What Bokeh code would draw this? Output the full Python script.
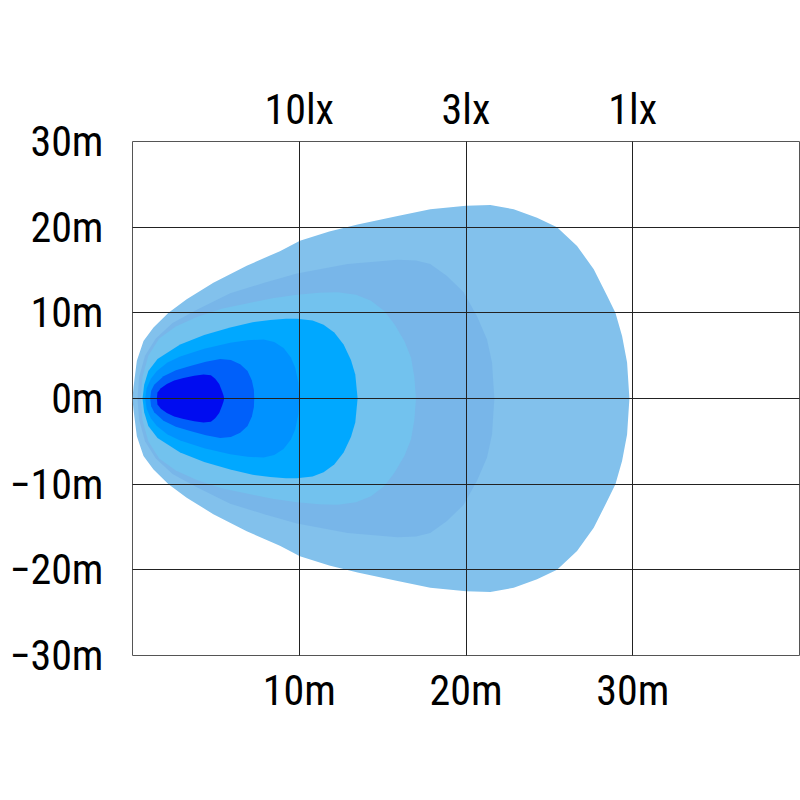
from bokeh.plotting import figure
from bokeh.models import Range1d, FixedTicker, LinearAxis
from bokeh.embed import file_html
from bokeh.resources import INLINE

# Iso-lux outlines (upper half, metres); lower half is the mirror image
lux1_x = [0.0, 0.06, 0.26, 0.66, 1.26, 2.16, 3.25, 4.85, 6.85, 8.84, 10.04, 11.8, 13.5, 15.9, 17.86,
          20.0, 21.46, 22.86, 24.26, 25.46, 26.66, 27.66, 28.46, 28.96, 29.36, 29.66, 29.8]
lux1_y = [0.0, 1.3, 4.4, 6.7, 8.3, 10.0, 11.6, 13.5, 15.5, 17.2, 18.4, 19.5, 20.3, 21.3, 22.1,
          22.5, 22.6, 22.1, 21.1, 20.0, 17.8, 15.1, 12.0, 10.0, 7.3, 4.2, 0.0]

lux2_x = [0.3, 0.4, 0.75, 1.4, 2.4, 3.8, 5.86, 7.9, 9.86, 12.9, 15.9, 17.0, 17.86, 18.86, 19.86,
          20.66, 21.26, 21.56, 21.7]
lux2_y = [0.0, 2.5, 5.0, 7.0, 8.8, 10.3, 12.3, 13.5, 14.6, 15.7, 16.2, 16.1, 15.7, 14.3, 12.4,
          9.6, 6.9, 4.2, 0.0]

lux3_x = [0.5, 0.6, 0.95, 1.6, 2.6, 3.86, 5.4, 6.86, 8.4, 9.86, 11.2, 12.3, 13.4, 14.3, 15.1,
          15.7, 16.3, 16.7, 16.9, 17.0]
lux3_y = [0.0, 2.5, 5.0, 7.0, 8.4, 9.5, 10.5, 11.1, 11.7, 12.1, 12.35, 12.4, 12.1, 11.4, 10.2,
          8.7, 6.7, 4.8, 2.5, 0.0]

lux10_x = [0.6, 0.7, 0.95, 1.5, 2.86, 4.3, 5.86, 7.2, 8.26, 9.2, 9.86, 10.8, 11.46, 12.1, 12.66,
           13.1, 13.36, 13.5]
lux10_y = [0.0, 1.6, 3.2, 4.6, 6.3, 7.4, 8.3, 8.9, 9.15, 9.3, 9.3, 9.1, 8.6, 7.7, 6.3,
           4.5, 2.8, 0.0]

lux20_x = [0.76, 0.85, 1.1, 1.46, 2.1, 2.86, 4.3, 5.86, 6.9, 7.86, 8.5, 9.06, 9.5, 9.76, 9.95, 10.0]
lux20_y = [0.0, 1.2, 2.3, 3.2, 4.2, 4.9, 5.8, 6.5, 6.8, 6.9, 6.6, 5.9, 4.8, 3.6, 1.8, 0.0]

lux40_x = [1.06, 1.12, 1.3, 1.86, 2.6, 3.46, 4.4, 5.26, 5.9, 6.46, 6.9, 7.16, 7.28, 7.3]
lux40_y = [0.0, 0.9, 1.6, 2.6, 3.3, 3.8, 4.3, 4.6, 4.5, 4.0, 3.2, 2.1, 1.0, 0.0]

lux80_x = [1.46, 1.5, 1.7, 2.06, 2.5, 3.06, 3.7, 4.26, 4.7, 4.96, 5.2, 5.36, 5.45, 5.5]
lux80_y = [0.0, 0.7, 1.2, 1.7, 2.1, 2.4, 2.65, 2.8, 2.7, 2.3, 1.7, 0.9, 0.4, 0.0]

layer_colors = ["#82C1EC", "#78B6E9", "#72C2EE", "#00A8FF", "#0092FF", "#0060FA", "#000CF0"]

y_ticks = [-30, -20, -10, 0, 10, 20, 30]
y_labels = ["\u221230m", "\u221220m", "\u221210m", "0m", "10m", "20m", "30m"]
x_ticks = [10, 20, 30]
x_labels = ["10m", "20m", "30m"]
top_labels = ["10lx", "3lx", "1lx"]

FONT = "'Liberation Sans Narrow', 'Arial Narrow', 'Roboto Condensed', 'DejaVu Sans Condensed', sans-serif"

p = figure(width=800, height=800, x_range=Range1d(0, 40), y_range=Range1d(-30, 30),
           output_backend="svg", toolbar_location=None,
           min_border_left=132, min_border_right=1, min_border_top=141, min_border_bottom=145)
p.background_fill_color = "white"
p.border_fill_color = "white"
p.outline_line_color = "#555555"
p.outline_line_width = 1

layers = [(lux1_x, lux1_y), (lux2_x, lux2_y), (lux3_x, lux3_y), (lux10_x, lux10_y),
          (lux20_x, lux20_y), (lux40_x, lux40_y), (lux80_x, lux80_y)]
for (lx, ly), col in zip(layers, layer_colors):
    xs = list(lx) + list(lx[::-1])
    ys = list(ly) + [-v for v in ly[::-1]]
    p.patch(xs, ys, fill_color=col, line_color=None)

p.xgrid.ticker = FixedTicker(ticks=x_ticks)
p.ygrid.ticker = FixedTicker(ticks=[-20, -10, 0, 10, 20])
for g in (p.xgrid, p.ygrid):
    g.grid_line_color = "#222222"
    g.grid_line_width = 1
    g.grid_line_alpha = 1.0
    g.level = "overlay"


def style_axis(ax, standoff):
    ax.axis_line_color = None
    ax.major_tick_line_color = None
    ax.minor_tick_line_color = None
    ax.major_tick_out = 0
    ax.major_tick_in = 0
    ax.major_label_standoff = standoff
    ax.major_label_text_font = FONT
    ax.major_label_text_font_size = "42px"
    ax.major_label_text_color = "#000000"


xa = p.xaxis[0]
xa.ticker = FixedTicker(ticks=x_ticks)
xa.major_label_overrides = {t: s for t, s in zip(x_ticks, x_labels)}
style_axis(xa, 10)

ya = p.yaxis[0]
ya.ticker = FixedTicker(ticks=y_ticks)
ya.major_label_overrides = {t: s for t, s in zip(y_ticks, y_labels)}
style_axis(ya, 29)

top = LinearAxis(ticker=FixedTicker(ticks=x_ticks),
                 major_label_overrides={t: s for t, s in zip(x_ticks, top_labels)})
style_axis(top, 8)
p.add_layout(top, "above")

open("out.html", "w").write(file_html(p, INLINE))
